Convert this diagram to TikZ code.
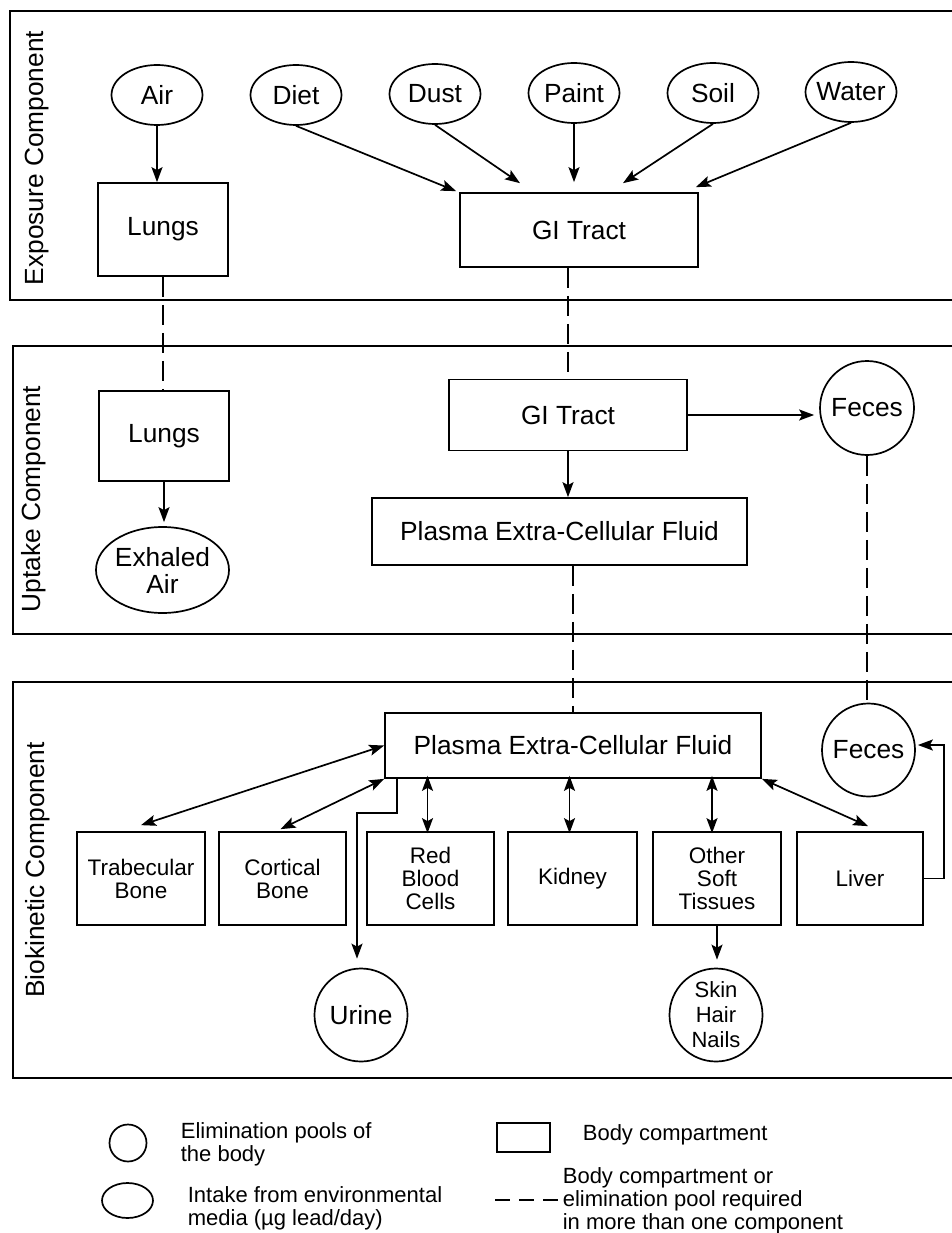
\documentclass[tikz,border=0pt]{standalone}
\usepackage{fontspec}
\setmainfont{Liberation Sans}
\usetikzlibrary{arrows.meta,shapes.geometric,calc}
% zero-width centred stack of lines (separated by \cr), so round shapes keep their set size
\newcommand\zc[1]{\makebox[0pt]{\vbox{\halign{\hfil##\hfil\cr#1\crcr}}}}

\begin{document}
\begin{tikzpicture}[x=1pt,y=-1pt,line width=1.7pt,
  >={Stealth[length=15pt,width=11pt,inset=3pt]},
  big/.style={font=\fontsize{26.3}{27}\selectfont},
  small/.style={font=\fontsize{22.5}{23}\selectfont},
  box/.style={draw,rectangle,inner sep=0pt,align=center,big},
  sbox/.style={box,small,minimum width=128pt,minimum height=93pt},
  oval/.style={draw,ellipse,inner sep=0pt,big},
  pool/.style={draw,circle,inner sep=0pt,minimum size=93pt,big},
  src/.style={oval,minimum width=91pt,minimum height=60pt},
  shared/.style={line width=1.5pt,dash pattern=on 20pt off 8pt},
  tag/.style={rotate=90,anchor=base,big},
  legtext/.style={anchor=base west,inner sep=0pt,font=\fontsize{22}{23}\selectfont}]

\useasboundingbox (0,0) rectangle (952,1233);

% component frames
\draw (10,11) rectangle (962,300);
\draw (13,346) rectangle (962,634);
\draw (13,682) rectangle (962,1078);
\node[tag] (tExp) at (43,158) {Exposure Component};
\node[tag] (tUpt) at (40,499) {Uptake Component};
\node[tag] (tBio) at (44,870) {Biokinetic Component};

% exposure component
\node[src] (air)   at (157,95) {\zc{Air}};
\node[src] (diet)  at (296,95) {\zc{Diet}};
\node[src] (dust)  at (435,94) {\zc{Dust}};
\node[src] (paint) at (574,93) {\zc{Paint}};
\node[src] (soil)  at (713,93) {\zc{Soil}};
\node[src] (water) at (851,92) {\zc{Water}};
\node[box,minimum width=130pt,minimum height=93pt] (lungsA) at (163,229.5) {Lungs};
\node[box,minimum width=238pt,minimum height=74pt] (giA) at (579,230) {GI Tract};

\draw[->] (air.south) -- (air.south |- lungsA.north);
\draw[->] (diet.south) -- ($(giA.north west)+(-3,-1)$);
\draw[->] (dust.south) -- ($(giA.north)+(-59,-9)$);
\draw[->] (paint.south) -- ($(paint.south |- giA.north)+(0,-10)$);
\draw[->] (soil.south) -- ($(giA.north)+(44,-9)$);
\draw[->] (water.south) -- ($(giA.north east)+(-3,-5)$);

% uptake component
\node[box,minimum width=130pt,minimum height=90pt] (lungsB) at (164,436) {Lungs};
\node[oval,minimum width=133pt,minimum height=86pt] (exhaled) at (162.5,570) {\zc{Exhaled\cr Air}};
\node[box,minimum width=238pt,minimum height=71pt] (giB) at (568,415) {GI Tract};
\node[pool,minimum size=94pt] (fecesB) at (867,408) {\zc{Feces}};
\node[box,minimum width=375pt,minimum height=67pt] (plasmaB) at (559.5,531.5) {Plasma Extra-Cellular Fluid};

\draw[->,shorten >=4pt] (lungsB.south) -- (lungsB.south |- exhaled.north);
\draw[->,shorten >=5pt] (giB.east) -- (giB.east -| fecesB.west);
\draw[->] (giB.south) -- (giB.south |- plasmaB.north);

% biokinetic component
\node[box,minimum width=376pt,minimum height=65pt] (plasmaC) at (573,745.5) {Plasma Extra-Cellular Fluid};
\node[pool] (fecesC) at (868.5,750) {\zc{Feces}};
\node[sbox] (trab)   at (141,878.5) {Trabecular\\Bone};
\node[sbox,minimum width=127pt] (cort)   at (282.5,878.5) {Cortical\\Bone};
\node[sbox,minimum width=127pt] (rbc)    at (430.5,878.5) {Red\\Blood\\Cells};
\node[sbox,minimum width=129pt] (kidney) at (572.5,878.5) {Kidney};
\node[sbox] (other)  at (717,878.5) {Other\\Soft\\Tissues};
\node[sbox,minimum width=126pt] (liver)  at (860,878.5) {Liver};
\node[pool] (urine) at (361,1015) {\zc{Urine}};
\node[pool,font=\fontsize{22}{25}\selectfont] (skin) at (716,1015) {\zc{Skin\cr Hair\cr Nails}};

\draw[<->] (plasmaC.west) -- ($(trab.north)+(0,-6)$);
\draw[<->] (plasmaC.south west) -- ($(cort.north)+(-2,-2)$);
\draw[<->] ($(plasmaC.south -| rbc.north)+(-3,-3)$) -- ($(rbc.north)+(-3,2)$);
\draw[<->] ($(plasmaC.south -| kidney.north)+(-3,-3)$) -- ($(kidney.north)+(-3,2)$);
\draw[<->] ($(plasmaC.south -| other.north)+(-5,-3)$) -- ($(other.north)+(-5,2)$);
\draw[<->] (plasmaC.south east) -- ($(liver.north)+(8,-5)$);
\draw[->] ($(plasmaC.south west)+(13,0)$) -- ++(0,34) -| ($(urine.north)+(-4,-9)$);
\draw[->,shorten >=8pt] (other.south) -- (other.south |- skin.north);
\draw[->] (liver.east) -- ++(20,0) |- ($(fecesC.east)+(2,-5)$);

% links between components
\draw[shared] (lungsA.south) -- (lungsA.south |- lungsB.north);
\draw[shared] (giB.north |- giA.south) -- (giB.north);
\draw[shared] (plasmaC.north |- plasmaB.south) -- (plasmaC.north);
\draw[shared] (fecesB.south) -- (fecesB.south |- fecesC.north);

% legend
\node[draw,circle,minimum size=37pt,inner sep=0pt] (lgPool) at (128,1143) {};
\node[draw,ellipse,minimum width=51pt,minimum height=35pt,inner sep=0pt] (lgOval) at (127.5,1200.5) {};
\node[draw,rectangle,minimum width=53pt,minimum height=29pt,inner sep=0pt] (lgBox) at (523.5,1137.5) {};
\coordinate (lgDashA) at (495,1200);
\coordinate (lgDashB) at (558,1200);
\draw[line width=1.5pt,dash pattern=on 15pt off 9pt] (lgDashA) -- (lgDashB);
\node[legtext] (lgPoolTxt) at (180,1138) {\begin{tabular}[t]{@{}l@{}}Elimination pools of\\the body\end{tabular}};
\node[legtext] (lgOvalTxt) at (187,1202) {\begin{tabular}[t]{@{}l@{}}Intake from environmental\\media (µg lead/day)\end{tabular}};
\node[legtext] (lgBoxTxt) at (582,1140) {Body compartment};
\node[legtext] (lgDashTxt) at (562,1183) {\begin{tabular}[t]{@{}l@{}}Body compartment or\\elimination pool required\\in more than one component\end{tabular}};
\end{tikzpicture}
\end{document}
